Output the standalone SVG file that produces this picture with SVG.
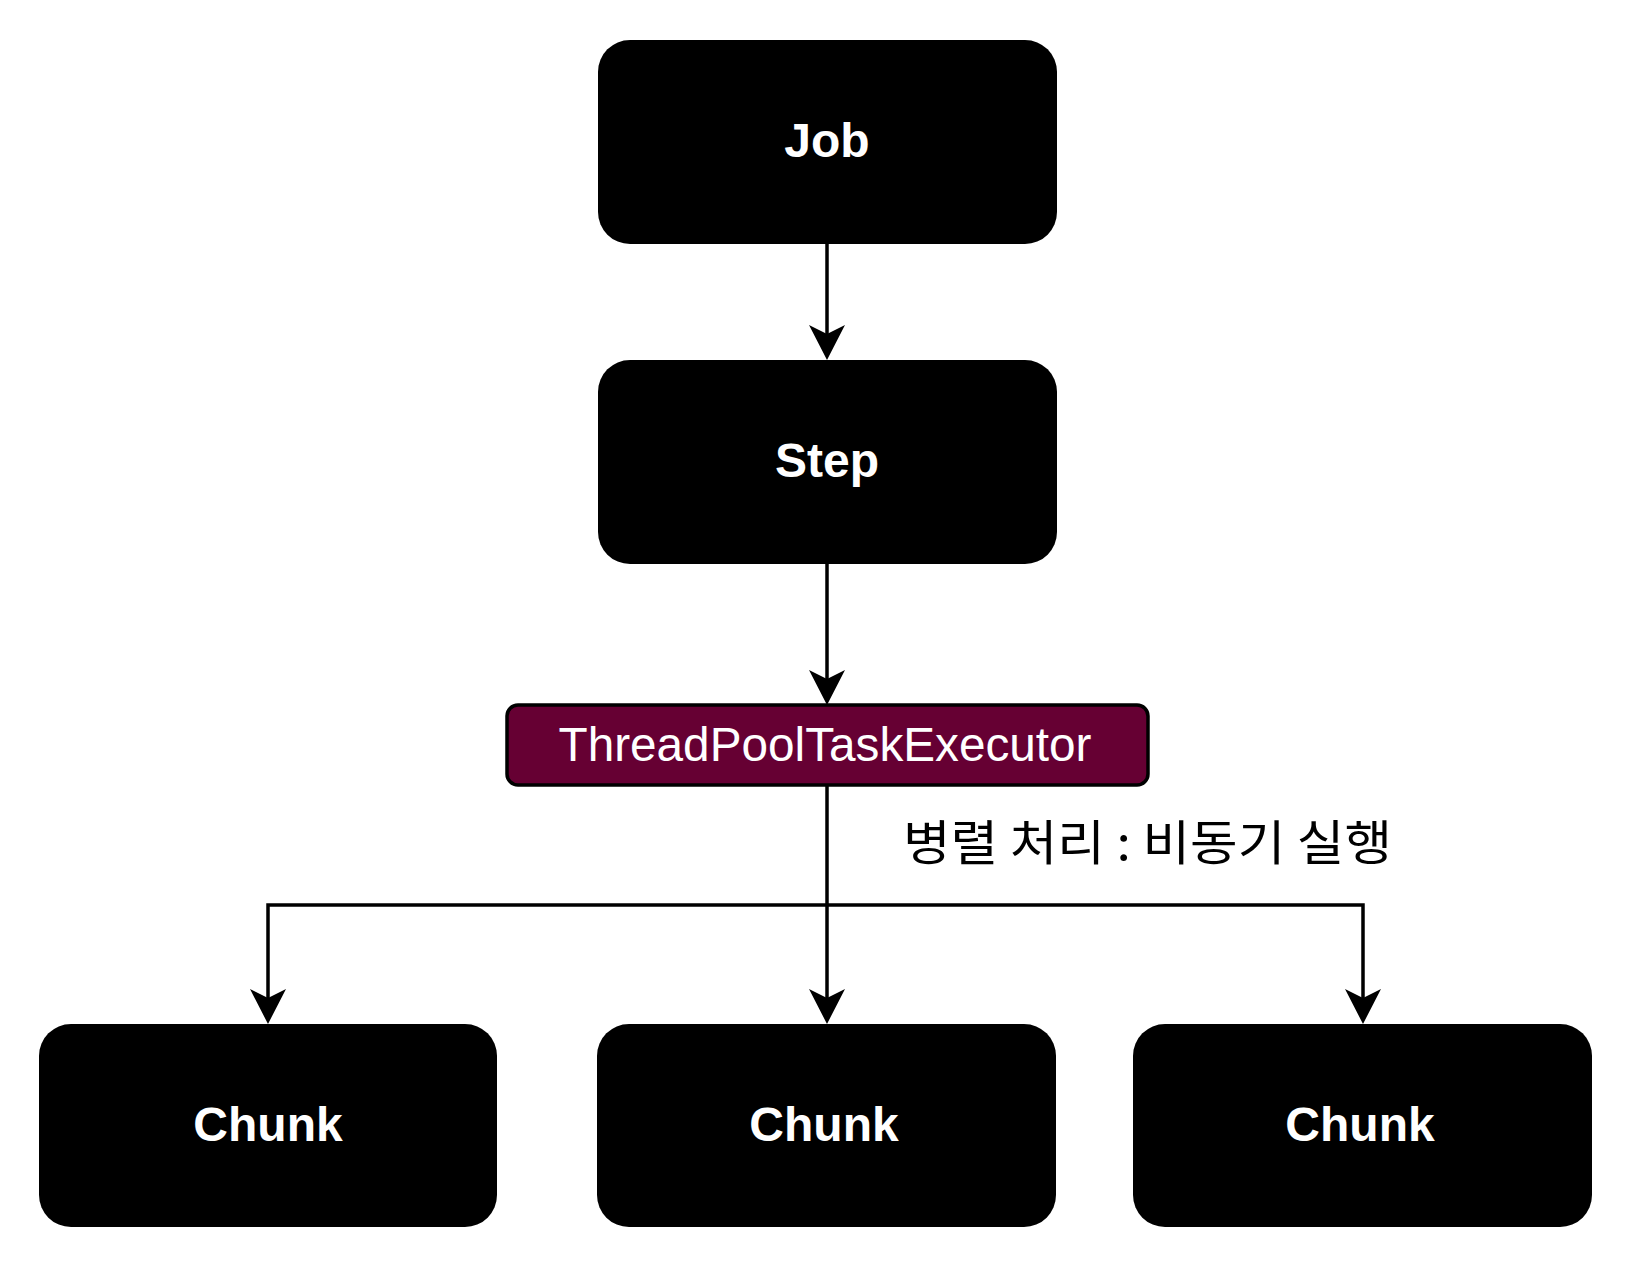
<svg xmlns="http://www.w3.org/2000/svg" width="1636" height="1272" viewBox="0 0 1636 1272">
<style>
.box{fill:#000;}
.lbl{font-family:"Liberation Sans",Arial,sans-serif;font-weight:bold;font-size:48px;fill:#fff;text-anchor:middle;}
.exe{fill:#660033;stroke:#000;stroke-width:3.5;}
.exetxt{font-family:"Liberation Sans",Arial,sans-serif;font-size:48px;fill:#fff;text-anchor:middle;}
.edge{fill:none;stroke:#000;stroke-width:3.5;}
.head{fill:#000;}
.note{font-family:"Noto Sans CJK KR","Noto Sans",sans-serif;font-size:48px;fill:#000;}
</style>
<rect width="1636" height="1272" fill="#fff"/>
<g id="connectors">
<path class="edge" d="M827,244 V340"/>
<path class="head" d="M827,360 L809,325 L827,334 L845,325 Z"/>
<path class="edge" d="M827,564 V685"/>
<path class="head" d="M827,705 L809,670 L827,679 L845,670 Z"/>
<path class="edge" d="M827,786 V1004"/>
<path class="head" d="M827,1024 L809,989 L827,998 L845,989 Z"/>
<path class="edge" d="M827,905 H268 V1004"/>
<path class="head" d="M268,1024 L250,989 L268,998 L286,989 Z"/>
<path class="edge" d="M827,905 H1363 V1004"/>
<path class="head" d="M1363,1024 L1345,989 L1363,998 L1381,989 Z"/>
<text class="note" x="903" y="860" textLength="489" lengthAdjust="spacingAndGlyphs">병렬 처리 : 비동기 실행</text>
</g>
<g id="job">
<rect class="box" x="598" y="40" width="459" height="204" rx="32"/>
<text class="lbl" x="827" y="157">Job</text>
</g>
<g id="step">
<rect class="box" x="598" y="360" width="459" height="204" rx="32"/>
<text class="lbl" x="827" y="477">Step</text>
</g>
<g id="executor">
<rect class="exe" x="507" y="705" width="641" height="80" rx="11"/>
<text class="exetxt" x="825" y="761" textLength="533" lengthAdjust="spacingAndGlyphs">ThreadPoolTaskExecutor</text>
</g>
<g id="chunk1">
<rect class="box" x="39" y="1024" width="458" height="203" rx="32"/>
<text class="lbl" x="268" y="1141">Chunk</text>
</g>
<g id="chunk2">
<rect class="box" x="597" y="1024" width="459" height="203" rx="32"/>
<text class="lbl" x="824" y="1141">Chunk</text>
</g>
<g id="chunk3">
<rect class="box" x="1133" y="1024" width="459" height="203" rx="32"/>
<text class="lbl" x="1360" y="1141">Chunk</text>
</g>
</svg>
